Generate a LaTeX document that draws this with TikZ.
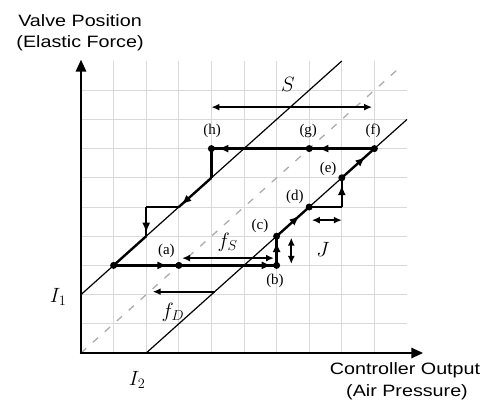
\documentclass[tikz,border=0pt]{standalone}
\usepackage{fontspec}
\setmainfont{Liberation Serif}
\newfontfamily\axfont{Liberation Sans}
\usetikzlibrary{arrows.meta,decorations.markings}
\begin{document}
\begin{tikzpicture}[x=32.6bp,y=29.2bp,
 gridline/.style={gray!30,line width=0.9bp},
 axisline/.style={line width=2.8bp,-{Triangle[length=12bp,width=10bp]}},
 thinline/.style={line width=1.2bp},
 pathline/.style={line width=2.4bp},
 dot/.style={circle,fill,inner sep=0pt,minimum size=7bp},
 lbl/.style={font=\fontsize{15}{16}\selectfont, inner sep=0pt},
 mlbl/.style={font=\fontsize{21}{23}\selectfont, inner sep=0pt},
 axlbl/.style={font=\axfont\fontsize{16.5}{18}\selectfont, inner sep=0pt},
 dimarrow/.style={line width=1.8bp,{Latex[length=8bp,width=7bp]}-{Latex[length=8bp,width=7bp]}},
 ah/.style={postaction={decorate,decoration={markings,mark=at position #1 with {\arrow{Latex[length=10bp,width=8bp]}}}}},
]
\path[use as bounding box] (-2.485,-1.815) rectangle (12.515,12.089);
% grid
\foreach \k in {1,...,9}{
  \draw[gridline] (\k,0) -- (\k,10);
  \draw[gridline] (0,\k) -- (10,\k);
}
% reference lines
\coordinate (O) at (0,0);
\coordinate (l1) at (0,2);
\coordinate (l1e) at (8,10);
\coordinate (l2) at (2,0);
\coordinate (l2e) at (10,8);
\coordinate (dg) at (9.75,9.75);
\draw[gray!65,line width=1.3bp,dash pattern=on 7bp off 9bp] (O) -- (dg);
\draw[thinline] (l1) -- (l1e);
\draw[thinline] (l2) -- (l2e);
% axes
\coordinate (ytip) at (0,10.05);
\coordinate (xtip) at (10.5,0);
\draw[axisline] (0,-0.045) -- (ytip);
\draw[axisline] (-0.04,0) -- (xtip);
% points
\node[dot] (p0) at (1,3) {};
\node[dot] (a) at (3,3) {};
\node[dot] (b) at (6,3) {};
\node[dot] (c) at (6,4) {};
\node[dot] (d) at (7,5) {};
\node[dot] (e) at (8,6) {};
\node[dot] (f) at (9,7) {};
\node[dot] (g) at (7,7) {};
\node[dot] (h) at (4,7) {};
\coordinate (q1) at (8,5);
\coordinate (q2) at (4,6);
\coordinate (q3) at (3,5);
\coordinate (q4) at (2,5);
\coordinate (q5) at (2,4);
% stiction path
\draw[pathline,ah=0.33,ah=0.97] (p0.center) -- (b.center);
\draw[pathline,ah=0.8] (b.center) -- (c.center);
\draw[pathline,ah=0.7] (c.center) -- (d.center);
\draw[pathline] (d.center) -- (q1);
\draw[pathline,ah=0.75] (q1) -- (e.center);
\draw[pathline,ah=0.72] (e.center) -- (f.center);
\draw[pathline,ah=0.86] (f.center) -- (g.center);
\draw[pathline,ah=0.93] (g.center) -- (h.center);
\draw[pathline] (h.center) -- (q2);
\draw[pathline,ah=0.92] (q2) -- (q3);
\draw[pathline] (q3) -- (q4);
\draw[pathline,ah=0.88] (q4) -- (q5);
\draw[pathline] (q5) -- (p0.center);
% dimension arrows
\coordinate (s1) at (4,8.42);
\coordinate (s2) at (8.93,8.42);
\draw[dimarrow] (s1) -- (s2);
\coordinate (fs1) at (3.1,3.25);
\coordinate (fs2) at (5.92,3.25);
\draw[dimarrow] (fs1) -- (fs2);
\coordinate (fd1) at (2.2,2.1);
\coordinate (fd2) at (4.1,2.1);
\draw[line width=1.8bp,{Latex[length=8bp,width=7bp]}-] (fd1) -- (fd2);
\coordinate (j1) at (7.08,4.55);
\coordinate (j2) at (8,4.55);
\draw[dimarrow] (j1) -- (j2);
\coordinate (v1) at (6.45,3.05);
\coordinate (v2) at (6.45,3.95);
\draw[dimarrow] (v1) -- (v2);
% point labels
\node[lbl] (la) at (2.62,3.5) {(a)};
\node[lbl] (lb) at (5.95,2.48) {(b)};
\node[lbl] (lc) at (5.49,4.34) {(c)};
\node[lbl] (ld) at (6.56,5.36) {(d)};
\node[lbl] (le) at (7.58,6.29) {(e)};
\node[lbl] (lf) at (8.96,7.6) {(f)};
\node[lbl] (lg) at (6.97,7.6) {(g)};
\node[lbl] (lh) at (4.02,7.6) {(h)};
% symbol labels
\node[mlbl] (tS) at (6.35,9.2) {$S$};
\node[mlbl] (tfs) at (4.5,3.8) {$f_S$};
\node[mlbl] (tfd) at (2.82,1.4) {$f_D$};
\node[mlbl] (tJ) at (7.42,3.55) {$J$};
\node[mlbl] (tl1) at (-0.7,1.92) {$I_1$};
\node[mlbl] (tl2) at (1.72,-0.92) {$I_2$};
% axis labels
\node[axlbl] (ya1) at (-0.03,11.37) {\scalebox{1.2}[1]{Valve Position}};
\node[axlbl] (ya2) at (-0.03,10.6) {\scalebox{1.2}[1]{(Elastic Force)}};
\node[axlbl] (xa1) at (9.94,-0.58) {\scalebox{1.2}[1]{Controller Output}};
\node[axlbl] (xa2) at (10.0,-1.34) {\scalebox{1.2}[1]{(Air Pressure)}};
\end{tikzpicture}
\end{document}
